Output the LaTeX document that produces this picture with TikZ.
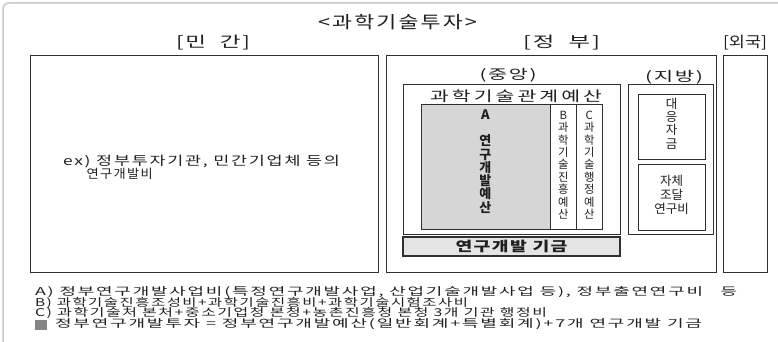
\documentclass[tikz,border=0pt]{standalone}
\usepackage{fontspec}
\usepackage{graphicx}
\setmainfont{Noto Sans CJK KR}
\usetikzlibrary{fit}
\definecolor{lc}{HTML}{303030}
\definecolor{tc}{HTML}{202020}
\definecolor{afill}{HTML}{D6D6D6}
\definecolor{ffill}{HTML}{E4E4E4}
\definecolor{sq}{HTML}{858585}
\definecolor{frame}{HTML}{C8C8C8}
\newlength\natw
\newcommand\fitto[3]{\settowidth\natw{\addfontfeatures{LetterSpace=#2}#3}\pgfmathsetmacro\fitsc{#1/\natw}\scalebox{\fitsc}[1]{\addfontfeatures{LetterSpace=#2}#3}}
\begin{document}
\begin{tikzpicture}[x=1pt,y=-1pt,
  box/.style={draw=lc, line width=0.8pt, inner sep=0pt, outer sep=0pt},
  lbl/.style={inner sep=0pt, outer sep=0pt, text=tc},
  vcol/.style={lbl, align=center},
  note/.style={lbl, anchor=west, font=\fontsize{10.8}{12}\selectfont}]
\useasboundingbox (0,0) rectangle (778,342);
\draw[frame, line width=1.5pt, rounded corners=6pt] (3,342) -- (3,3) -- (778,3);

% titles
\node[lbl, font=\fontsize{17}{19}\selectfont] (title) at (397.5,22) {\fitto{159}{10}{<과학기술투자>}};
\node[lbl, font=\fontsize{15}{17}\selectfont] (hminkan) at (213,43) {\fitto{74}{8}{[민 \ 간]}};
\node[lbl, font=\fontsize{15}{17}\selectfont] (hgov) at (561.5,43) {\fitto{77}{8}{[정 \ 부]}};
\node[lbl, font=\fontsize{15}{17}\selectfont] (hfor) at (745,43) {\fitto{44}{0}{[외국]}};

% main boxes
\node[box, fit={(30,55) (378,272)}] (minkan) {};
\node[box, fit={(386,55) (716,272)}] (gov) {};
\node[box, fit={(723,55) (767,272)}] (foreign) {};

\node[lbl, font=\fontsize{12.5}{14}\selectfont, anchor=west] (ex1) at (63,161.7) {\fitto{277}{10}{ex) 정부투자기관, 민간기업체 등의}};
\node[lbl, font=\fontsize{12.5}{14}\selectfont, anchor=west] (ex2) at (86.7,173.6) {\fitto{66}{10}{연구개발비}};

% central
\node[lbl, font=\fontsize{13.5}{15}\selectfont] (hcentral) at (508,75) {\fitto{57}{8}{(중앙)}};
\node[box, fit={(403,84) (620,234)}] (central) {};
\node[lbl, font=\fontsize{14}{16}\selectfont] (hrel) at (516,96.5) {\fitto{172}{15}{과학기술관계예산}};
\node[box, fill=afill, fit={(421,104) (550,229)}] (boxA) {};
\node[box, fit={(550,104) (576.7,229)}] (boxB) {};
\node[box, fit={(576.7,104) (602,229)}] (boxC) {};
\node[lbl, font=\fontsize{13}{13}\selectfont\bfseries] (labA) at (485.3,115) {A};
\node[vcol, font=\fontsize{13}{13.3}\selectfont\bfseries] (txtA) at (485.3,174) {연\\구\\개\\발\\예\\산};
\node[vcol, font=\fontsize{11.3}{12.4}\selectfont] (txtB) at (563.3,165) {B\\과\\학\\기\\술\\진\\흥\\예\\산};
\node[vcol, font=\fontsize{11.3}{12.4}\selectfont] (txtC) at (589.3,165) {C\\과\\학\\기\\술\\행\\정\\예\\산};
\node[box, fill=ffill, line width=1.6pt, fit={(403,237) (620,256)}] (fund) {};
\node[lbl, font=\fontsize{13.5}{15}\selectfont\bfseries] (fundtxt) at (511.5,246.5) {\fitto{112}{8}{연구개발 기금}};

% local
\node[lbl, font=\fontsize{13.5}{15}\selectfont] (hlocal) at (674,77) {\fitto{58}{8}{(지방)}};
\node[box, fit={(628.3,84) (713.5,234.3)}] (local) {};
\node[box, fit={(638.3,94.3) (705,159.3)}] (match) {};
\node[box, fit={(638.3,164) (705,230)}] (own) {};
\node[vcol, font=\fontsize{12.5}{13.3}\selectfont] (matchtxt) at (671.7,123.5) {대\\응\\자\\금};
\node[vcol, font=\fontsize{12.5}{13.7}\selectfont] (owntxt) at (671.7,195) {자체\\조달\\연구비};

% notes
\node[note] (noteA) at (35,292.5) {\fitto{702}{10}{A) 정부연구개발사업비(특정연구개발사업, 산업기술개발사업 등), 정부출연연구비 \ \ 등}};
\node[note] (noteB) at (35,303) {\fitto{433}{10}{B) 과학기술진흥조성비+과학기술진흥비+과학기술시험조사비}};
\node[note] (noteC) at (35,313.5) {\fitto{512}{10}{C) 과학기술처 본처+중소기업청 본청+농촌진흥청 본청 3개 기관 행정비}};
\node[fill=sq, inner sep=0pt, outer sep=0pt, fit={(35,319.5) (47,329.5)}] (square) {};
\node[note] (noteD) at (55,324.5) {\fitto{647}{10}{정부연구개발투자 = 정부연구개발예산(일반회계+특별회계)+7개 연구개발 기금}};
\end{tikzpicture}
\end{document}
